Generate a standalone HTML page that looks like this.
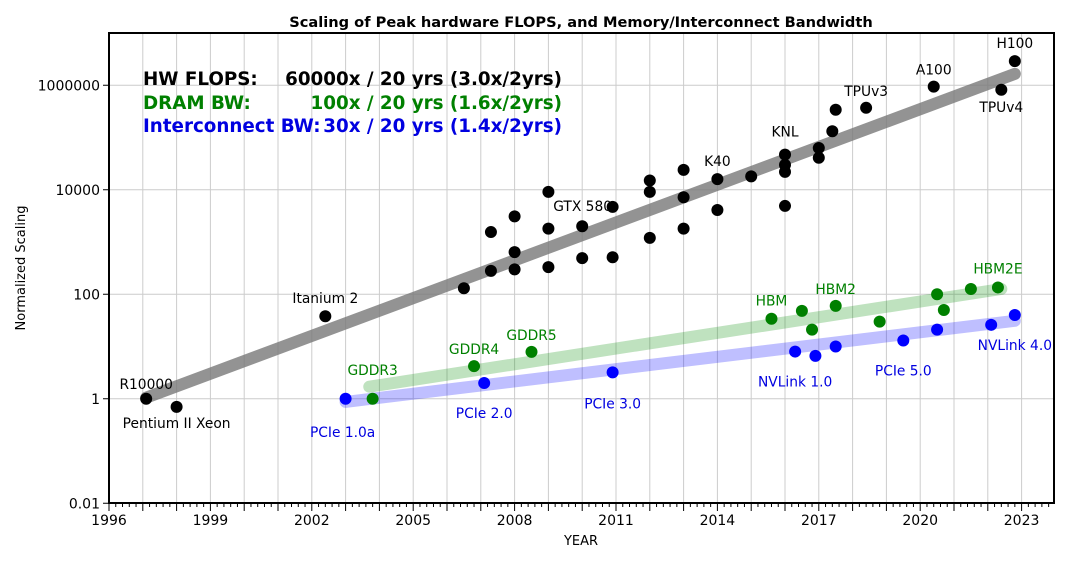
<!DOCTYPE html>
<html><head><meta charset="utf-8"><style>
body{margin:0;background:#fff}
svg text{font-family:"DejaVu Sans","Liberation Sans",sans-serif}
</style></head><body>
<svg id="chart" width="1078" height="556" viewBox="0 0 1078 556" xmlns="http://www.w3.org/2000/svg">
<g id="grid"></g>
<g id="trends"></g>
<g id="marks"></g>
<g id="labels"></g>
<g id="axes"></g>
<text x="581" y="27" text-anchor="middle" font-size="14.6" font-weight="bold">Scaling of Peak hardware FLOPS, and Memory/Interconnect Bandwidth</text>
<text x="581" y="545" text-anchor="middle" font-size="13">YEAR</text>
<text x="25" y="268" text-anchor="middle" font-size="13" transform="rotate(-90 25 268)">Normalized Scaling</text>
<g font-size="18.3" font-weight="bold">
<text x="143" y="85" fill="#000">HW FLOPS:</text>
<text x="562" y="85" fill="#000" text-anchor="end">60000x / 20 yrs (3.0x/2yrs)</text>
<text x="143" y="109" fill="#008000">DRAM BW:</text>
<text x="562" y="109" fill="#008000" text-anchor="end">100x / 20 yrs (1.6x/2yrs)</text>
<text x="143" y="132" fill="#0000e0">Interconnect BW:</text>
<text x="562" y="132" fill="#0000e0" text-anchor="end">30x / 20 yrs (1.4x/2yrs)</text>
</g>
</svg>
<script>
const flopsYears=[1997.1,1998.0,2002.4,2006.5,2007.3,2007.3,2008.0,2008.0,2008.0,2009.0,2009.0,2009.0,2010.0,2010.0,2010.9,2010.9,2012.0,2012.0,2012.0,2013.0,2013.0,2013.0,2014.0,2014.0,2015.0,2016.0,2016.0,2016.0,2016.0,2017.0,2017.0,2017.4,2017.5,2018.4,2020.4,2022.4,2022.8];
const flopsValues=[1.0,0.7,38,130,280,1550,300,640,3100,330,1800,9100,490,2000,510,4700,1200,9100,15000,1800,7200,24000,4100,16000,18000,4900,22000,30000,47000,41000,63000,132000,340000,370000,940000,820000,2900000];
const dramYears=[2003.8,2006.8,2008.5,2015.6,2016.5,2016.8,2017.5,2018.8,2020.5,2020.7,2021.5,2022.3];
const dramValues=[1.0,4.2,7.9,34,48,21,60,30,100,50,126,135];
const icYears=[2003.0,2007.1,2010.9,2016.3,2016.9,2017.5,2019.5,2020.5,2022.1,2022.8];
const icValues=[1.0,2.0,3.2,8,6.6,10,13,21,26,40];
const trendYears=[[1997.1,2022.8],[2003.7,2022.4],[2003.0,2022.8]];
const trendValues=[[1.05,1650000],[1.7,126],[0.87,31]];
const yTicks=[0.01,1,100,10000,1000000];
const yTickLabels=["0.01","1","100","10000","1000000"];
const xTickYears=[1996,1999,2002,2005,2008,2011,2014,2017,2020,2023];
const flopsLabels=[["R10000",1997.1,1.0,0,-10],["Pentium II Xeon",1998.0,0.7,0,21],["Itanium 2",2002.4,38,0,-13],["GTX 580",2010.9,4700,-30,4],["K40",2014.0,16000,0,-13],["KNL",2016.0,47000,0,-18],["TPUv3",2018.4,370000,0,-12],["A100",2020.4,940000,0,-12],["H100",2022.8,2900000,0,-13],["TPUv4",2022.4,820000,0,22]];
const dramLabels=[["GDDR3",2003.8,1.0,0,-24],["GDDR4",2006.8,4.2,0,-12],["GDDR5",2008.5,7.9,0,-12],["HBM",2015.6,34,0,-13],["HBM2",2017.5,60,0,-12],["HBM2E",2022.3,135,0,-14]];
const icLabels=[["PCIe 1.0a",2003.0,1.0,-3,38],["PCIe 2.0",2007.1,2.0,0,35],["PCIe 3.0",2010.9,3.2,0,36],["NVLink 1.0",2016.3,8,0,35],["PCIe 5.0",2019.5,13,0,35],["NVLink 4.0",2022.8,40,0,35]];

const X0=109,PX=33.8,L=109,R=1054,T=33,B=503;
const xs=y=>X0+(y-1996)*PX;
const ys=v=>T+(7-Math.log10(v))*52.25;
const NS="http://www.w3.org/2000/svg";
function mk(parent,tag,attrs){const e=document.createElementNS(NS,tag);for(const k in attrs)e.setAttribute(k,attrs[k]);document.getElementById(parent).appendChild(e);return e;}

for(let yr=1997;yr<=2023;yr++){const g=mk('grid','line',{x1:xs(yr),x2:xs(yr),y1:T,y2:B,stroke:'#ccc','stroke-width':1});

}
yTicks.forEach((v,i)=>{const g=mk('grid','line',{x1:L,x2:R,y1:ys(v),y2:ys(v),stroke:'#ccc','stroke-width':1});


const t=mk('axes','line',{x1:L-6,x2:L,y1:ys(v),y2:ys(v),stroke:'#000','stroke-width':1});


const tx=mk('axes','text',{x:L-9,y:ys(v)+5,'text-anchor':'end','font-size':14});tx.textContent=yTickLabels[i];

});
for(let k=0;k*0.2+1996<=2023.9;k++){const yr=1996+k*0.2;const major=k%5===0;
const t=mk('axes','line',{x1:xs(yr),x2:xs(yr),y1:B,y2:B+(major?8:4),stroke:'#000','stroke-width':1});

}
xTickYears.forEach(yr=>{const tx=mk('axes','text',{x:xs(yr),y:B+22,'text-anchor':'middle','font-size':14});tx.textContent=yr;

});
const fr=mk('axes','rect',{x:L,y:T,width:R-L,height:B-T,fill:'none',stroke:'#000','stroke-width':2});



const tcol=['rgba(120,120,120,0.8)','rgba(0,140,0,0.25)','rgba(0,0,255,0.25)'];
const tname=['flops-trend-line','dram-trend-line','interconnect-trend-line'];
trendYears.forEach((ty,i)=>{const l=mk('trends','line',{x1:xs(ty[0]),y1:ys(trendValues[i][0]),x2:xs(ty[1]),y2:ys(trendValues[i][1]),stroke:tcol[i],'stroke-width':12,'stroke-linecap':'round'});

});

function pts(yrs,vals,col,name){yrs.forEach((yr,i)=>{const c=mk('marks','circle',{cx:xs(yr),cy:ys(vals[i]),r:6,fill:col});

});}
pts(flopsYears,flopsValues,'#000','flops-point');
pts(dramYears,dramValues,'#008000','dram-point');
pts(icYears,icValues,'#0000ff','interconnect-point');

function labs(arr,col){arr.forEach(a=>{const t=mk('labels','text',{x:xs(a[1])+a[3],y:ys(a[2])+a[4],'text-anchor':'middle','font-size':13.8,fill:col});t.textContent=a[0];

});}
labs(flopsLabels,'#000');labs(dramLabels,'#008000');labs(icLabels,'#0000e0');
</script>
</body></html>
